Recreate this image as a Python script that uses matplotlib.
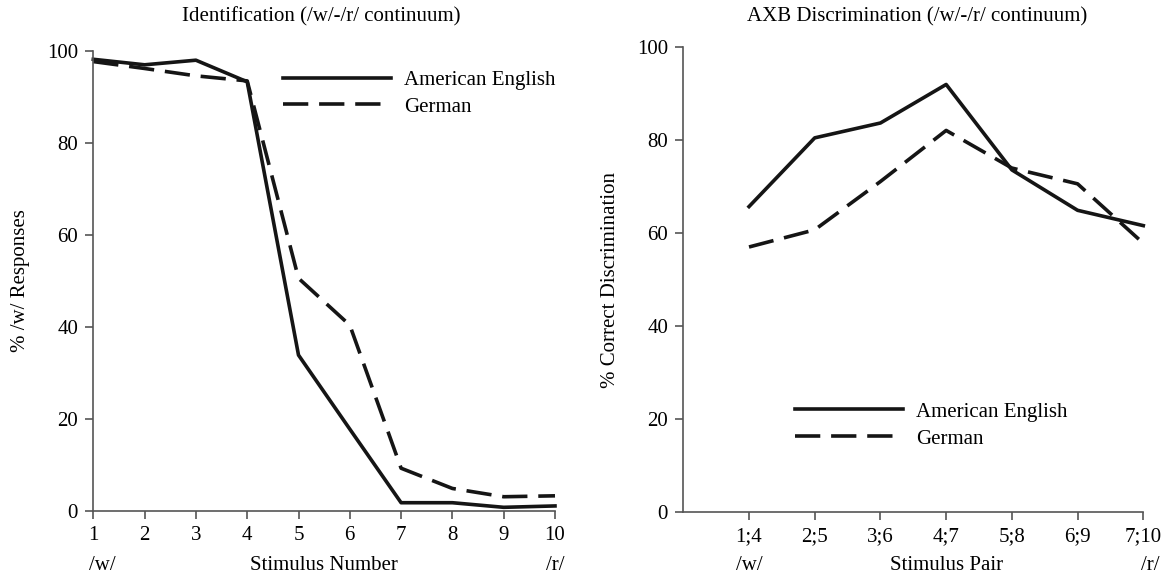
import matplotlib
matplotlib.use("Agg")
import matplotlib.pyplot as plt
import matplotlib.transforms as mtransforms

# データ
stimulus = [1, 2, 3, 4, 5, 6, 7, 8, 9, 10]
ident_english = [98.2, 97.0, 98.0, 93.3, 33.9, 17.8, 1.8, 1.8, 0.8, 1.1]
ident_german = [97.7, 96.2, 94.6, 93.5, 50.6, 40.4, 9.3, 4.9, 3.1, 3.3]

pairs = ["1;4", "2;5", "3;6", "4;7", "5;8", "6;9", "7;10"]
disc_english = [65.7, 80.5, 83.7, 92.0, 73.6, 64.9, 61.6]
disc_german = [57.0, 60.7, 71.1, 82.1, 74.0, 70.6, 57.8]

yticks = [0, 20, 40, 60, 80, 100]

plt.rcParams["font.family"] = ["Liberation Serif", "DejaVu Serif"]
FS = 15
LINE = "#151515"
SPINE = "#555555"
LW = 2.6
DASH = (7.0, 3.0)

W, H = 1167, 579
fig = plt.figure(figsize=(W / 100, H / 100), dpi=100)


def px_axes(left, right, top, bottom):
    return fig.add_axes([left / W, 1 - bottom / H, (right - left) / W, (bottom - top) / H])


def style(ax):
    for s in ["top", "right"]:
        ax.spines[s].set_visible(False)
    for s in ["left", "bottom"]:
        ax.spines[s].set_color(SPINE)
        ax.spines[s].set_linewidth(1.2)
    ax.tick_params(direction="out", length=6, width=1.2, color=SPINE,
                   labelsize=FS, pad=5)
    ax.set_ylim(0, 100)
    ax.set_yticks(yticks)


# 左：同定
ax1 = px_axes(93.3, 555, 51, 511)
style(ax1)
ax1.plot(stimulus, ident_english, color=LINE, lw=LW, label="American English",
         clip_on=False)
ax1.plot(stimulus, ident_german, color=LINE, lw=LW, dashes=DASH, label="German",
         clip_on=False)
ax1.set_xlim(1, 10)
ax1.set_xticks(stimulus)
ax1.set_ylabel("% /w/ Responses", fontsize=FS, labelpad=12)
ax1.legend(loc="upper left", bbox_to_anchor=(0.411, 0.958), frameon=False,
           fontsize=FS, borderpad=0, handlelength=5.2, handletextpad=0.6,
           labelspacing=0.35, borderaxespad=0)

# 右：弁別
ax2 = px_axes(683.3, 1143.3, 47.3, 511.7)
style(ax2)
xs = list(range(1, len(pairs) + 1))
ax2.plot(xs, disc_english, color=LINE, lw=LW, label="American English",
         clip_on=False)
ax2.plot(xs, disc_german, color=LINE, lw=LW, dashes=DASH, label="German",
         clip_on=False)
ax2.set_xlim(0, 7)
ax2.set_xticks(xs)
ax2.set_xticklabels(pairs)
ax2.set_ylabel("% Correct Discrimination", fontsize=FS, labelpad=12)
ax2.legend(loc="upper left", bbox_to_anchor=(0.243, 0.236), frameon=False,
           fontsize=FS, borderpad=0, handlelength=5.2, handletextpad=0.6,
           labelspacing=0.35, borderaxespad=0)

# タイトル
fig.text(321 / W, 1 - 17 / H, "Identification (/w/-/r/ continuum)",
         ha="center", va="center", fontsize=FS)
fig.text(917 / W, 1 - 17 / H, "AXB Discrimination (/w/-/r/ continuum)",
         ha="center", va="center", fontsize=FS)

# 下段ラベル
yb = 1 - 565 / H
for ax, xl, xr, xc, name in [(ax1, 1.18, 10, 5.5, "Stimulus Number"),
                             (ax2, 1, 7.1, 4, "Stimulus Pair")]:
    tr = mtransforms.blended_transform_factory(ax.transData, fig.transFigure)
    ax.text(xl, yb, "/w/", transform=tr, ha="center", va="center", fontsize=FS)
    ax.text(xc, yb, name, transform=tr, ha="center", va="center", fontsize=FS)
    ax.text(xr, yb, "/r/", transform=tr, ha="center", va="center", fontsize=FS)

fig.savefig("out.png", dpi=100)
